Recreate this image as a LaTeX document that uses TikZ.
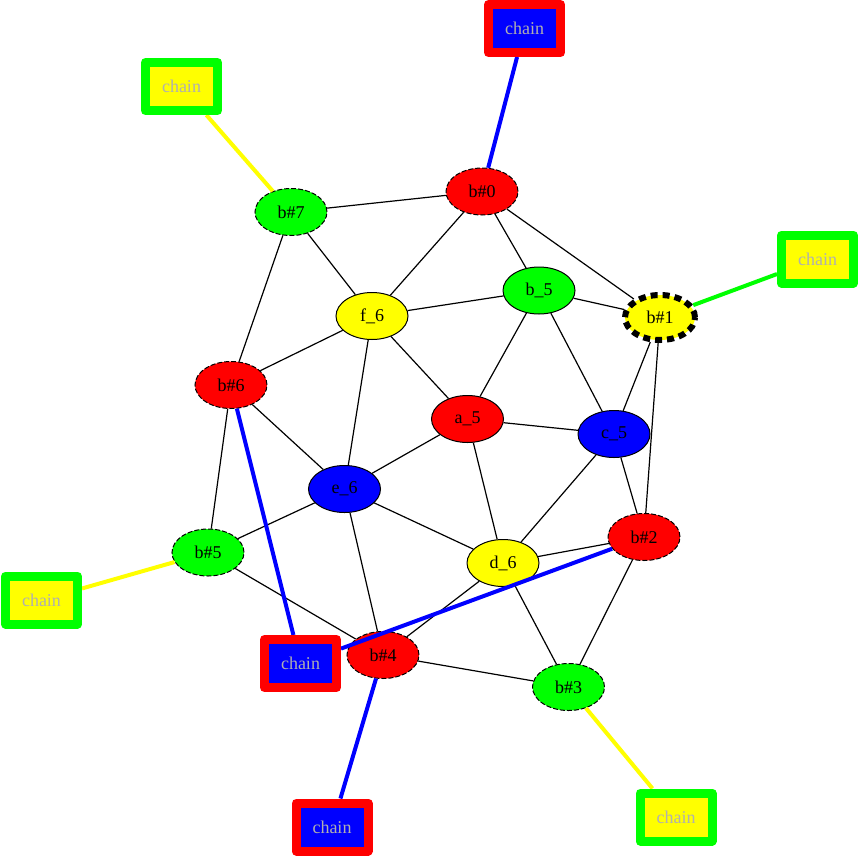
\documentclass[tikz,border=0pt]{standalone}
\usepackage{fontspec}
\setmainfont{Liberation Serif}
\usetikzlibrary{shapes.geometric}
\pgfdeclarelayer{bg}
\pgfdeclarelayer{fg}
\pgfsetlayers{bg,main,fg}
\definecolor{cred}{HTML}{FF0000}
\definecolor{cgreen}{HTML}{00FF00}
\definecolor{cblue}{HTML}{0000FF}
\definecolor{cyellow}{HTML}{FFFF00}
\definecolor{chaingray}{HTML}{B0B0B0}
\begin{document}
\begin{tikzpicture}[x=1pt,y=-1pt,
  gn/.style={ellipse, draw=black, line width=1pt, minimum width=72pt, minimum height=47pt, inner sep=0pt, font=\fontsize{18}{20}\selectfont},
  dsh/.style={dash pattern=on 5pt off 2pt},
  bigdsh/.style={line width=6pt, dash pattern=on 7pt off 5pt, minimum width=70pt, minimum height=45pt},
  chainbox/.style={rectangle, line width=9pt, line join=round, minimum width=72pt, minimum height=48pt, inner sep=0pt, text=chaingray, font=\fontsize{18}{20}\selectfont},
  redbox/.style={chainbox, draw=cred, fill=cblue},
  greenbox/.style={chainbox, draw=cgreen, fill=cyellow},
  edge/.style={draw=black, line width=1.2pt},
  cedge/.style={line width=4pt}
]
\useasboundingbox (0,0) rectangle (859,857);

% graph nodes
\node[gn, dsh, fill=cred]    (b0) at (482,191.5) {b\#0};
\node[gn, dsh, fill=cgreen]  (b7) at (291,212) {b\#7};
\node[gn, fill=cyellow]      (f6) at (372,316) {f\_6};
\node[gn, fill=cgreen]       (b5) at (539,290.5) {b\_5};
\node[gn, bigdsh, fill=cyellow] (b1) at (660,317.5) {b\#1};
\node[gn, dsh, fill=cred]    (b6) at (231,385) {b\#6};
\node[gn, fill=cred]         (a5) at (467.5,419) {a\_5};
\node[gn, fill=cblue]        (c5) at (614,434) {c\_5};
\node[gn, fill=cblue]        (e6) at (344.5,489) {e\_6};
\node[gn, dsh, fill=cred]    (bb2) at (644,537) {b\#2};
\node[gn, dsh, fill=cgreen]  (bb5) at (208,552.5) {b\#5};
\node[gn, fill=cyellow]      (d6) at (503,563) {d\_6};
\node[gn, dsh, fill=cred]    (b4) at (383,655) {b\#4};
\node[gn, dsh, fill=cgreen]  (b3) at (568.5,687) {b\#3};

% chain boxes
\begin{pgfonlayer}{fg}
\node[redbox]   (ct)  at (524.5,28.5) {chain};
\node[greenbox] (ctl) at (181.5,86.5) {chain};
\node[greenbox] (cr)  at (817.5,259) {chain};
\node[greenbox] (cl)  at (41.5,600) {chain};
\node[redbox]   (cm)  at (300.5,663.5) {chain};
\node[redbox]   (cbm) at (332,827) {chain};
\node[greenbox] (cbr) at (676,817) {chain};
\end{pgfonlayer}

% black edges
\begin{pgfonlayer}{bg}
\foreach \u/\v in {b7/b0, b7/f6, b7/b6, b0/f6, b0/b5, b0/b1, f6/b5, f6/b6, f6/a5, f6/e6,
  b5/b1, b5/a5, b5/c5, b1/c5, b1/bb2, b6/e6, b6/bb5, a5/c5, a5/e6, a5/d6, c5/bb2, c5/d6,
  e6/bb5, e6/d6, e6/b4, bb5/b4, d6/bb2, d6/b4, d6/b3, bb2/b3, b4/b3}
  \draw[edge] (\u) -- (\v);
\end{pgfonlayer}

% chain edges
\draw[cedge, cblue] (ct) -- (b0);
\draw[cedge, cyellow] (ctl) -- (b7);
\draw[cedge, cgreen] (cr) -- (b1);
\draw[cedge, cyellow] (cl) -- (bb5);
\draw[cedge, cblue] (cm) -- (b6);
\draw[cedge, cblue] (cm) -- (bb2);
\draw[cedge, cblue] (cbm) -- (b4);
\draw[cedge, cyellow] (cbr) -- (b3);
\end{tikzpicture}
\end{document}
